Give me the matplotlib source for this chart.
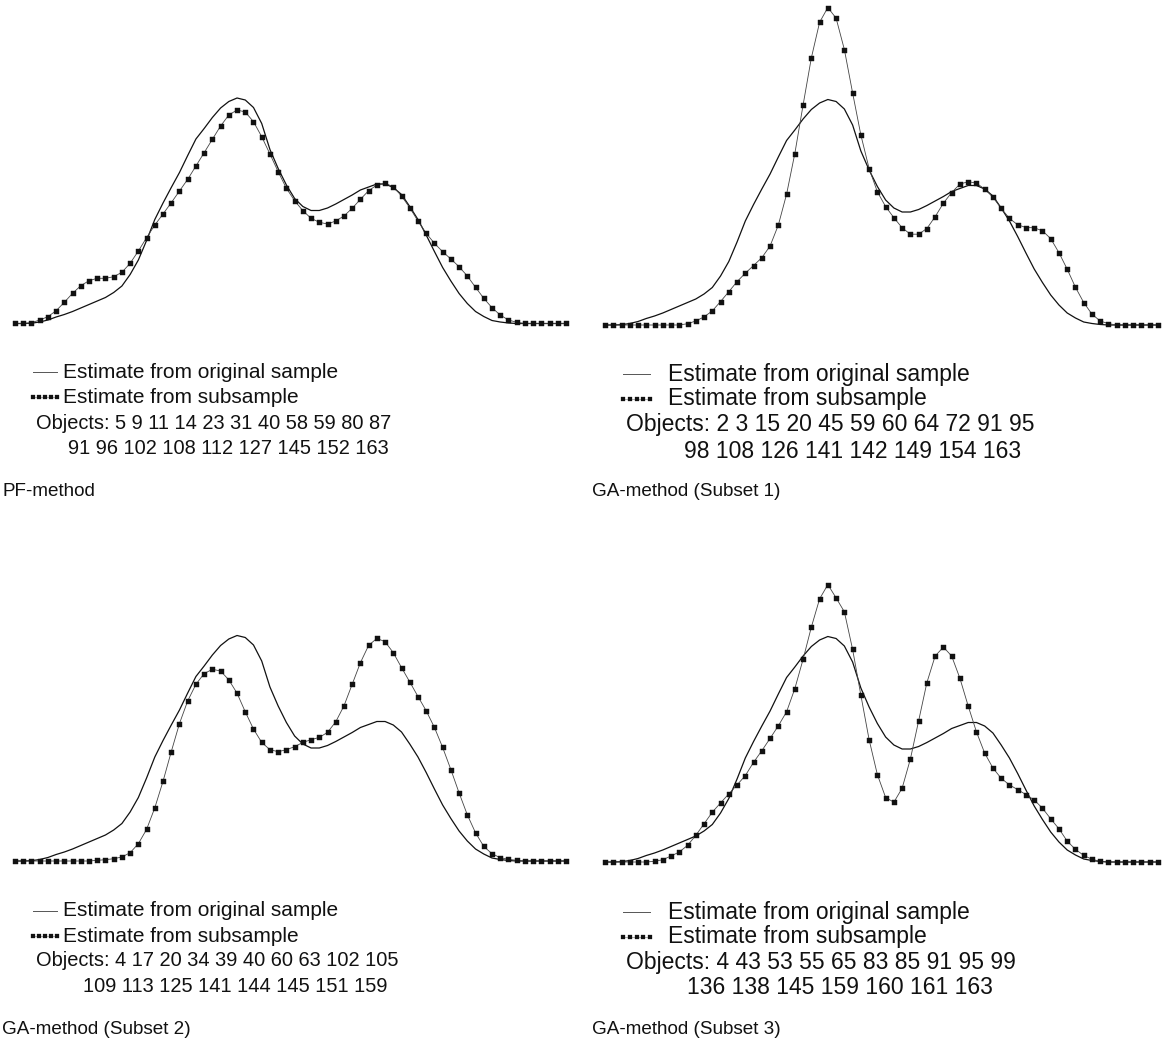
import matplotlib
matplotlib.use("Agg")
import matplotlib.pyplot as plt
from matplotlib.lines import Line2D

plt.rcParams['font.family'] = ['Liberation Sans', 'DejaVu Sans']

# Evaluation grid of the kernel density estimates (68 points)
grid = list(range(68))

# Density estimate from the original sample (shared by all four panels)
original = [0.000, 0.000, 0.0003, 0.0015, 0.0035, 0.0065, 0.009, 0.012, 0.0155, 0.019,
            0.0225, 0.026, 0.031, 0.0375, 0.049, 0.0635, 0.083, 0.104, 0.1205, 0.136,
            0.151, 0.168, 0.1845, 0.195, 0.206, 0.2155, 0.222, 0.2255, 0.2235, 0.216,
            0.200, 0.174, 0.155, 0.1385, 0.125, 0.117, 0.113, 0.113, 0.1155, 0.1195,
            0.124, 0.1285, 0.1335, 0.1365, 0.1395, 0.1395, 0.136, 0.129, 0.117, 0.104,
            0.0885, 0.072, 0.056, 0.0425, 0.030, 0.020, 0.012, 0.007, 0.003, 0.0015,
            0.0005, 0.000, 0.000, 0.000, 0.000, 0.000, 0.000, 0.000]

# Density estimates from the selected subsamples
pf_method = [0.000, 0.000, 0.0008, 0.0035, 0.0068, 0.0128, 0.0212, 0.0302, 0.0378, 0.0428,
             0.0452, 0.0452, 0.0468, 0.0512, 0.0602, 0.0725, 0.0858, 0.0985, 0.1095, 0.1208,
             0.1325, 0.1442, 0.1575, 0.1708, 0.1842, 0.1975, 0.2085, 0.2135, 0.2115, 0.2018,
             0.1868, 0.1695, 0.1518, 0.1352, 0.1228, 0.1128, 0.1052, 0.1012, 0.0995, 0.1025,
             0.1075, 0.1152, 0.1242, 0.1328, 0.1385, 0.1402, 0.1368, 0.1275, 0.1158, 0.1025,
             0.0902, 0.0802, 0.0718, 0.0645, 0.0568, 0.0475, 0.0362, 0.0252, 0.0158, 0.0085,
             0.0035, 0.0012, 0.000, 0.000, 0.000, 0.000, 0.000, 0.000]

ga_subset1 = [0.000, 0.000, 0.000, 0.000, 0.000, 0.000, 0.000, 0.000, 0.000, 0.000,
              0.0013, 0.0040, 0.0081, 0.0141, 0.0235, 0.0333, 0.0434, 0.0518, 0.0595, 0.0673,
              0.0790, 0.0999, 0.1308, 0.1715, 0.2200, 0.2671, 0.3027, 0.3175, 0.3068, 0.2755,
              0.2321, 0.1900, 0.1564, 0.1332, 0.1184, 0.1073, 0.0972, 0.0908, 0.0908, 0.0965,
              0.1083, 0.1218, 0.1325, 0.1409, 0.1433, 0.1419, 0.1359, 0.1278, 0.1167, 0.1066,
              0.1002, 0.0975, 0.0972, 0.0942, 0.0864, 0.0723, 0.0558, 0.0377, 0.0225, 0.0108,
              0.0040, 0.0013, 0.000, 0.000, 0.000, 0.000, 0.000, 0.000]

ga_subset2 = [0.000, 0.000, 0.000, 0.000, 0.000, 0.000, 0.000, 0.000, 0.000, 0.000,
              0.0007, 0.0013, 0.0023, 0.0040, 0.0083, 0.0173, 0.0316, 0.0532, 0.0797, 0.1093,
              0.1375, 0.1601, 0.1767, 0.1874, 0.1917, 0.1900, 0.1811, 0.1678, 0.1492, 0.1319,
              0.1186, 0.1113, 0.1093, 0.1113, 0.1143, 0.1186, 0.1213, 0.1236, 0.1286, 0.1392,
              0.1551, 0.1767, 0.1983, 0.2156, 0.2226, 0.2193, 0.2083, 0.1934, 0.1791, 0.1645,
              0.1502, 0.1336, 0.1136, 0.0914, 0.0681, 0.0462, 0.0282, 0.0146, 0.0073, 0.0033,
              0.0017, 0.0007, 0.000, 0.000, 0.000, 0.000, 0.000, 0.000]

ga_subset3 = [0.000, 0.000, 0.000, 0.000, 0.000, 0.000, 0.0007, 0.0023, 0.0060, 0.0100,
              0.0166, 0.0266, 0.0382, 0.0498, 0.0591, 0.0681, 0.0771, 0.0864, 0.0997, 0.1113,
              0.1236, 0.1362, 0.1502, 0.1734, 0.2027, 0.2349, 0.2631, 0.2774, 0.2641, 0.2502,
              0.2126, 0.1668, 0.1223, 0.0874, 0.0645, 0.0598, 0.0738, 0.1030, 0.1412, 0.1794,
              0.2060, 0.2149, 0.2060, 0.1837, 0.1561, 0.1302, 0.1089, 0.0940, 0.0837, 0.0771,
              0.0724, 0.0674, 0.0621, 0.0538, 0.0432, 0.0332, 0.0209, 0.0126, 0.0066, 0.0027,
              0.0007, 0.000, 0.000, 0.000, 0.000, 0.000, 0.000, 0.000]

legend_labels = ["Estimate from original sample", "Estimate from subsample"]

object_lines = [
    ["Objects: 5 9 11 14 23 31 40 58 59 80 87", "91 96 102 108 112 127 145 152 163"],
    ["Objects: 2 3 15 20 45 59 60 64 72 91 95", "98 108 126 141 142 149 154 163"],
    ["Objects: 4 17 20 34 39 40 60 63 102 105", "109 113 125 141 144 145 151 159"],
    ["Objects: 4 43 53 55 65 83 85 91 95 99", "136 138 145 159 160 161 163"],
]
captions = ["PF-method", "GA-method (Subset 1)", "GA-method (Subset 2)", "GA-method (Subset 3)"]
subsamples = [pf_method, ga_subset1, ga_subset2, ga_subset3]

W, H = 1168, 1047
fig = plt.figure(figsize=(W / 100, H / 100), dpi=100)
fig.patch.set_facecolor("white")

PX_PER_UNIT = 1000.0  # vertical pixels per density unit


def fx(px):
    return px / W


def fy(py):
    return 1 - py / H


def make_axes(x_first, x_last, baseline):
    sx = (x_last - x_first) / (len(grid) - 1)
    pad = 9
    top = max(0, baseline - 330)
    bottom = baseline + 8
    ax = fig.add_axes([fx(x_first - pad), fy(bottom),
                       (x_last - x_first + 2 * pad) / W, (bottom - top) / H])
    ax.set_xlim(grid[0] - pad / sx, grid[-1] + pad / sx)
    ax.set_ylim(-(bottom - baseline) / PX_PER_UNIT, (baseline - top) / PX_PER_UNIT)
    ax.axis("off")
    return ax


# panel layout in pixels: grid ends, baseline, text column, text rows, font sizes
panels = [
    dict(x0=15, x1=566, base=323.5, tx=0, rows=[372, 397, 423, 449], cap=492, fs=14.4, lfs=15.0,
         cfs=13.6, ind=[36, 68], samp=(33, 57), textx=63),
    dict(x0=605, x1=1158, base=325, tx=590, rows=[374, 399, 425, 451], cap=492, fs=16.5, lfs=16.5,
         cfs=13.6, ind=[36, 94], samp=(33, 60), textx=78),
    dict(x0=15, x1=566, base=861, tx=0, rows=[911, 936, 961, 987], cap=1030, fs=14.4, lfs=15.0,
         cfs=13.6, ind=[36, 83], samp=(33, 57), textx=63),
    dict(x0=605, x1=1158, base=862, tx=590, rows=[912, 937, 963, 988], cap=1030, fs=16.5, lfs=16.5,
         cfs=13.6, ind=[36, 97], samp=(33, 60), textx=78),
]

for k, p in enumerate(panels):
    ax = make_axes(p["x0"], p["x1"], p["base"])
    ax.plot(grid, original, color="#111111", lw=0.9, solid_joinstyle="round")
    ax.plot(grid, subsamples[k], color="#444444", lw=0.6, marker="s", ms=3.6,
            mfc="#111111", mec="#111111", mew=0.3)

    tx = p["tx"]
    r1, r2, r3, r4 = p["rows"]
    sample_x0 = tx + p["samp"][0]
    sample_x1 = tx + p["samp"][1]
    text_x = tx + p["textx"]

    # legend: solid sample line
    fig.add_artist(Line2D([fx(sample_x0), fx(sample_x1)], [fy(r1), fy(r1)],
                          color="#555555", lw=0.7))
    # legend: row of small squares
    n = 5
    xs = [fx(sample_x0 + j * (sample_x1 - sample_x0) / (n - 1)) for j in range(n)]
    fig.add_artist(Line2D(xs, [fy(r2)] * n, color="#777777", lw=0.4,
                          marker="s", ms=2.6, mfc="#111111", mec="#111111", mew=0.2))

    fig.text(fx(text_x), fy(r1), legend_labels[0], fontsize=p["lfs"], va="center", ha="left",
             color="#111111")
    fig.text(fx(text_x), fy(r2), legend_labels[1], fontsize=p["lfs"], va="center", ha="left",
             color="#111111")
    fig.text(fx(tx + p["ind"][0]), fy(r3), object_lines[k][0], fontsize=p["fs"],
             va="center", ha="left", color="#111111")
    fig.text(fx(tx + p["ind"][1]), fy(r4), object_lines[k][1], fontsize=p["fs"],
             va="center", ha="left", color="#111111")
    fig.text(fx(tx + 2), fy(p["cap"]), captions[k], fontsize=p["cfs"], va="center", ha="left",
             color="#111111")

fig.savefig("out.png", dpi=100, facecolor="white")
